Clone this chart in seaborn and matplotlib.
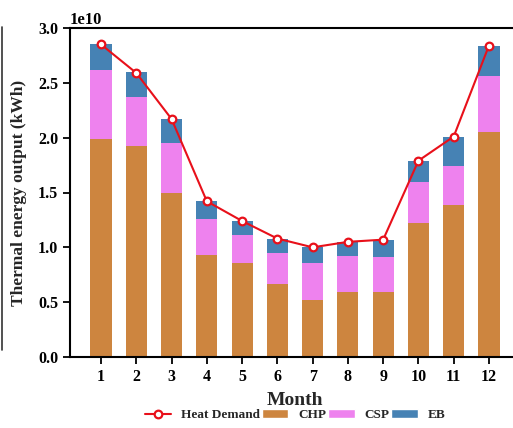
import matplotlib
matplotlib.use("Agg")
import matplotlib.pyplot as plt
from matplotlib.lines import Line2D
from matplotlib.patches import Patch
import seaborn as sns
import pandas as pd
import numpy as np

months = [1, 2, 3, 4, 5, 6, 7, 8, 9, 10, 11, 12]
chp = [1.99, 1.92, 1.50, 0.93, 0.86, 0.67, 0.52, 0.59, 0.59, 1.22, 1.39, 2.05]
csp = [0.63, 0.45, 0.45, 0.33, 0.25, 0.28, 0.34, 0.33, 0.32, 0.38, 0.35, 0.51]
eb = [0.23, 0.23, 0.22, 0.16, 0.13, 0.13, 0.14, 0.13, 0.16, 0.19, 0.27, 0.28]
demand = [2.85, 2.59, 2.17, 1.42, 1.24, 1.08, 1.00, 1.05, 1.07, 1.79, 2.01, 2.84]
scale = 1e10

c_chp = "#CD853F"
c_csp = "#EE82EE"
c_eb = "#4682B4"
c_line = "#E8101A"

sns.set_theme(style="ticks")
plt.rcParams["font.family"] = ["Liberation Serif", "DejaVu Serif"]
plt.rcParams["font.weight"] = "bold"
plt.rcParams["axes.labelweight"] = "bold"

df = pd.DataFrame({
    "Month": months,
    "CHP": np.array(chp) * scale,
    "CSP": np.array(csp) * scale,
    "EB": np.array(eb) * scale,
    "Demand": np.array(demand) * scale,
})
df["L2"] = df["CHP"] + df["CSP"]
df["L3"] = df["L2"] + df["EB"]

fig = plt.figure(figsize=(5.13, 4.28), dpi=100)
ax = fig.add_axes([70 / 513, 1 - 357 / 428, 450 / 513, (357 - 28) / 428])

kw = dict(width=0.6, native_scale=True, ax=ax, linewidth=0, saturation=1)
sns.barplot(data=df, x="Month", y="L3", color=c_eb, **kw)
sns.barplot(data=df, x="Month", y="L2", color=c_csp, **kw)
sns.barplot(data=df, x="Month", y="CHP", color=c_chp, **kw)
sns.lineplot(data=df, x="Month", y="Demand", ax=ax, color=c_line, linewidth=1.5,
             marker="o", markersize=5.5, markerfacecolor="white",
             markeredgecolor=c_line, markeredgewidth=1.6)

ax.set_xlim(0.12, 12.88)
ax.set_ylim(0, 3.0e10)
ax.set_xticks(months)
ax.set_xticklabels([str(m) for m in months])
ax.set_yticks(np.arange(0, 3.01, 0.5) * scale)
ax.ticklabel_format(axis="y", style="sci", scilimits=(0, 0))
ax.yaxis.get_offset_text().set_fontsize(12)
ax.yaxis.get_offset_text().set_fontweight("bold")

for side in ["left", "bottom", "top", "right"]:
    ax.spines[side].set_linewidth(1.5)
    ax.spines[side].set_color("black")
ax.tick_params(axis="both", direction="out", length=5, width=1.3, labelsize=11.5, colors="black")
for lab in ax.get_xticklabels() + ax.get_yticklabels():
    lab.set_fontweight("bold")

ax.set_xlabel("Month", fontsize=14, fontweight="bold", labelpad=5)
ax.set_ylabel("Thermal energy output (kWh)", fontsize=12.5, fontweight="bold", labelpad=8)

handles = [
    Line2D([0], [0], color=c_line, lw=1.5, marker="o", markersize=5.5,
           markerfacecolor="white", markeredgecolor=c_line, markeredgewidth=1.6),
    Patch(facecolor=c_chp), Patch(facecolor=c_csp), Patch(facecolor=c_eb),
]
labels = ["Heat Demand", "CHP", "CSP", "EB"]
fig.legend(handles, labels, loc="center", bbox_to_anchor=(295 / 513, 1 - 415 / 428),
           ncol=4, frameon=False, handlelength=2.0, handleheight=0.6,
           handletextpad=0.75, columnspacing=0.15, prop={"weight": "bold", "size": 9.5})

fig.add_artist(Line2D([1.5 / 513, 1.5 / 513], [1 - 27 / 428, 1 - 350 / 428],
                      transform=fig.transFigure, color="#333333", lw=1.2))

fig.savefig("out.png", dpi=100)
